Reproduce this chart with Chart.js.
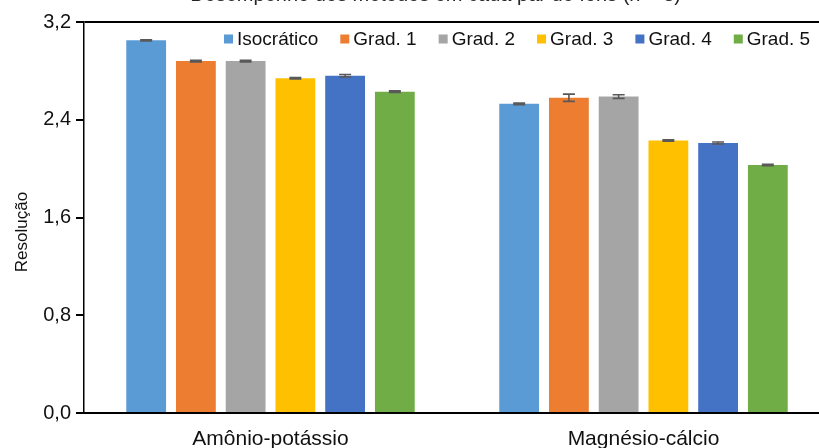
<!DOCTYPE html>
<html>
<head>
<meta charset="utf-8">
<script src="https://cdn.jsdelivr.net/npm/chart.js@4/dist/chart.umd.min.js"></script>
<style>
  html, body { margin: 0; padding: 0; background: #fff; overflow: hidden; }
  #wrap { width: 832px; height: 448px; }
</style>
</head>
<body>
<div id="wrap"><canvas id="c" width="832" height="448"></canvas></div>
<script>
// Pares de cátions avaliados
const categories = ['Amônio-potássio', 'Magnésio-cálcio'];

// Resolução média de cada modo de eluição (um valor por par)
const isocratico = [3.05, 2.53];
const grad1 = [2.88, 2.58];
const grad2 = [2.88, 2.59];
const grad3 = [2.74, 2.23];
const grad4 = [2.76, 2.21];
const grad5 = [2.63, 2.03];

// Desvio padrão (n = 3)
const errIsocratico = [0.005, 0.006];
const errGrad1 = [0.006, 0.03];
const errGrad2 = [0.006, 0.015];
const errGrad3 = [0.006, 0.006];
const errGrad4 = [0.01, 0.008];
const errGrad5 = [0.006, 0.006];

const seriesNames = ['Isocrático', 'Grad. 1', 'Grad. 2', 'Grad. 3', 'Grad. 4', 'Grad. 5'];
const yTicks = [0, 0.8, 1.6, 2.4, 3.2];
const titleText = 'Desempenho dos métodos em cada par de íons (n = 3)';
const yTitle = 'Resolução';

const colors = ['#5B9BD5', '#ED7D31', '#A5A5A5', '#FFC000', '#4472C4', '#70AD47'];
const seriesValues = [isocratico, grad1, grad2, grad3, grad4, grad5];
const seriesErrors = [errIsocratico, errGrad1, errGrad2, errGrad3, errGrad4, errGrad5];

const FONT = '"Liberation Sans", Arial, sans-serif';

// Barras de erro desenhadas sobre cada barra a partir da escala y
const errorBars = {
  id: 'errorBars',
  afterDatasetsDraw(chart) {
    const { ctx, scales: { y } } = chart;
    ctx.save();
    ctx.strokeStyle = '#595959';
    ctx.lineWidth = 1.6;
    chart.data.datasets.forEach((ds, i) => {
      const meta = chart.getDatasetMeta(i);
      meta.data.forEach((bar, j) => {
        const v = ds.data[j];
        const e = ds.errors[j];
        const top = y.getPixelForValue(v + e);
        const bot = y.getPixelForValue(v - e);
        const half = 6;
        ctx.beginPath();
        ctx.moveTo(bar.x, top); ctx.lineTo(bar.x, bot);
        ctx.moveTo(bar.x - half, top); ctx.lineTo(bar.x + half, top);
        ctx.moveTo(bar.x - half, bot); ctx.lineTo(bar.x + half, bot);
        ctx.stroke();
      });
    });
    ctx.restore();
  }
};

// Título, legenda e título do eixo y
const decorations = {
  id: 'decorations',
  afterDraw(chart) {
    const { ctx } = chart;
    ctx.save();
    // título (a área visível começa logo abaixo da linha de base)
    ctx.fillStyle = '#262626';
    ctx.font = '20px ' + FONT;
    ctx.textAlign = 'right';
    ctx.textBaseline = 'bottom';
    ctx.fillText(titleText, 681, 5);

    // título do eixo y
    ctx.save();
    ctx.translate(22, 232);
    ctx.rotate(-Math.PI / 2);
    ctx.textAlign = 'center';
    ctx.textBaseline = 'middle';
    ctx.font = '17px ' + FONT;
    ctx.fillStyle = '#111';
    ctx.fillText(yTitle, 0, 0);
    ctx.restore();

    // legenda
    ctx.font = '19px ' + FONT;
    ctx.textAlign = 'left';
    ctx.textBaseline = 'middle';
    let x = 224;
    const cy = 39;
    chart.data.datasets.forEach((ds) => {
      ctx.fillStyle = ds.backgroundColor;
      ctx.fillRect(x, cy - 4.5, 9, 9);
      ctx.fillStyle = '#111';
      ctx.fillText(ds.label, x + 13, cy + 1);
      x += 13 + ctx.measureText(ds.label).width + 22;
    });
    ctx.restore();
  }
};

new Chart(document.getElementById('c'), {
  type: 'bar',
  data: {
    labels: categories,
    datasets: seriesNames.map((name, i) => ({
      label: name,
      data: seriesValues[i],
      errors: seriesErrors[i],
      backgroundColor: colors[i],
      borderWidth: 0,
      categoryPercentage: 0.8,
      barPercentage: 0.8
    }))
  },
  options: {
    responsive: false,
    animation: false,
    devicePixelRatio: 1,
    layout: { padding: { top: 22, right: 2, left: 0, bottom: 0 } },
    plugins: {
      legend: { display: false },
      title: { display: false },
      tooltip: { enabled: false }
    },
    scales: {
      x: {
        grid: { display: false, drawTicks: false },
        border: { display: true, color: '#000', width: 2 },
        ticks: {
          color: '#111',
          padding: 14,
          font: { family: FONT, size: 21 }
        },
        afterFit(axis) { axis.height = 35; }
      },
      y: {
        min: 0,
        max: 3.2,
        afterBuildTicks(axis) { axis.ticks = yTicks.map(v => ({ value: v })); },
        grid: {
          drawTicks: true,
          tickLength: 8,
          tickColor: '#000',
          lineWidth: 2,
          color: (c) => (c.tick && c.tick.value === 3.2 ? '#000' : 'rgba(0,0,0,0)')
        },
        border: { display: true, color: '#000', width: 1.5 },
        ticks: {
          color: '#111',
          padding: 5,
          font: { family: FONT, size: 20 },
          callback: (v) => Number(v).toFixed(1).replace('.', ',')
        },
        afterFit(axis) { axis.width = 84; }
      }
    }
  },
  plugins: [errorBars, decorations]
});
</script>
</body>
</html>
